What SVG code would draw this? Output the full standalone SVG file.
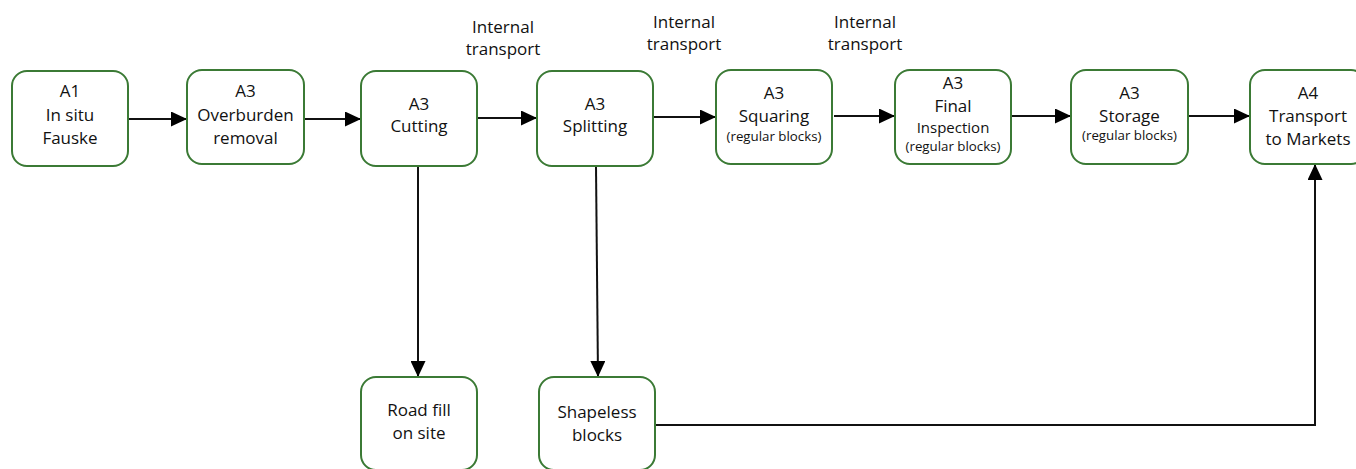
<svg xmlns="http://www.w3.org/2000/svg" width="1356" height="469" viewBox="0 0 1356 469">
<style>
.box{fill:#fff;stroke:#3b7a35;stroke-width:2}
text{font-family:"Open Sans","Liberation Sans",sans-serif;fill:#111;text-anchor:middle;font-size:17px}
.sm{font-size:13.3px}
.md{font-size:15px}
.conn{stroke:#111;stroke-width:2;fill:none;marker-end:url(#ah)}
</style>
<defs>
<marker id="ah" markerUnits="userSpaceOnUse" markerWidth="17" markerHeight="15" refX="16" refY="7.5" orient="auto">
<path d="M0,0 L16,7.5 L0,15 Z" fill="#000"/>
</marker>
</defs>
<g id="connectors">
<line class="conn" x1="128" y1="119" x2="187" y2="119"/>
<line class="conn" x1="304" y1="119" x2="361" y2="119"/>
<line class="conn" x1="477" y1="118" x2="537" y2="118"/>
<line class="conn" x1="653" y1="117" x2="716" y2="117"/>
<line class="conn" x1="834" y1="116" x2="895" y2="116"/>
<line class="conn" x1="1011" y1="116" x2="1071" y2="116"/>
<line class="conn" x1="1188" y1="116" x2="1250" y2="116"/>
<line class="conn" x1="418" y1="166" x2="418" y2="377"/>
<line class="conn" x1="596" y1="166" x2="598" y2="377"/>
<polyline class="conn" points="655,425 1315,425 1315,164"/>
<g id="labels">
<text x="503" y="33">Internal</text><text x="503" y="55">transport</text>
<text x="684" y="28">Internal</text><text x="684" y="50">transport</text>
<text x="865" y="28">Internal</text><text x="865" y="50">transport</text>
</g>
</g>
<g id="n1"><rect class="box" x="12" y="71" width="116" height="95" rx="15"/>
<text x="70" y="97">A1</text><text x="70" y="121">In situ</text><text x="70" y="144">Fauske</text></g>
<g id="n2"><rect class="box" x="187" y="70" width="117" height="94" rx="15"/>
<text x="245.5" y="97">A3</text><text x="245.5" y="121">Overburden</text><text x="245.5" y="144">removal</text></g>
<g id="n3"><rect class="box" x="361" y="71" width="116" height="95" rx="15"/>
<text x="419" y="110">A3</text><text x="419" y="132">Cutting</text></g>
<g id="n4"><rect class="box" x="537" y="71" width="116" height="95" rx="15"/>
<text x="595" y="110">A3</text><text x="595" y="132">Splitting</text></g>
<g id="n5"><rect class="box" x="716" y="70" width="116" height="94" rx="15"/>
<text x="774" y="99">A3</text><text x="774" y="122">Squaring</text><text class="sm" x="774" y="141">(regular blocks)</text></g>
<g id="n6"><rect class="box" x="895" y="70" width="116" height="94" rx="15"/>
<text x="953" y="89">A3</text><text x="953" y="112">Final</text><text class="md" x="953" y="133">Inspection</text><text class="sm" x="953" y="151">(regular blocks)</text></g>
<g id="n7"><rect class="box" x="1071" y="70" width="117" height="94" rx="15"/>
<text x="1129.5" y="99">A3</text><text x="1129.5" y="122">Storage</text><text class="sm" x="1129.5" y="140">(regular blocks)</text></g>
<g id="n8"><rect class="box" x="1250" y="70" width="116" height="94" rx="15"/>
<text x="1308" y="99">A4</text><text x="1308" y="122">Transport</text><text x="1308" y="145">to Markets</text></g>
<g id="n9"><rect class="box" x="361" y="377" width="116" height="93" rx="15"/>
<text x="419" y="416">Road fill</text><text x="419" y="439">on site</text></g>
<g id="n10"><rect class="box" x="539" y="377" width="116" height="93" rx="15"/>
<text x="597" y="418">Shapeless</text><text x="597" y="441">blocks</text></g>
</svg>
